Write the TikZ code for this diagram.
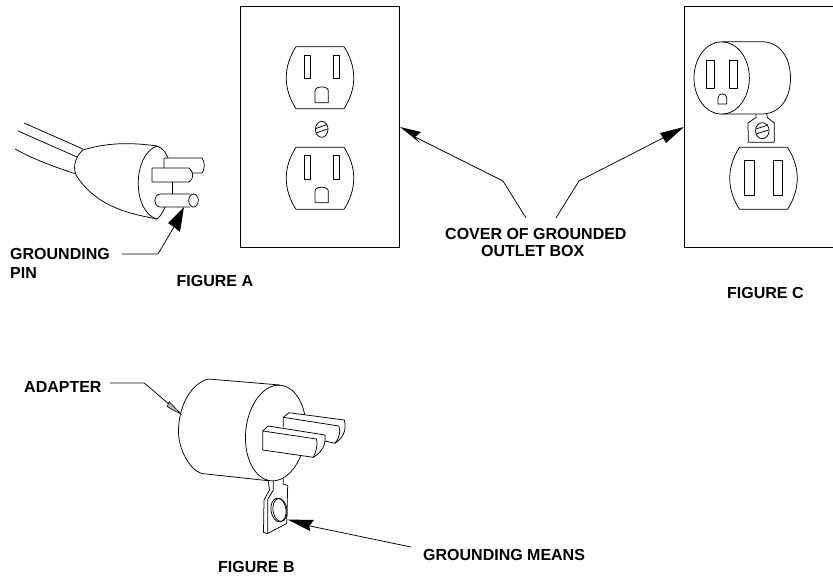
\documentclass[tikz,border=0pt]{standalone}
\usepackage{fontspec}
\setmainfont{Liberation Sans}
\tikzset{
 lbl/.style={font=\bfseries\fontsize{16}{17}\selectfont,inner sep=0pt,align=left,anchor=west},
 ln/.style={draw=black,line width=0.75pt,line join=round},
 pnl/.style={draw=black,line width=1pt},
 head/.style={fill=black,draw=none}
}
\begin{document}
\begin{tikzpicture}[x=1pt,y=-1pt]
\useasboundingbox (0,0) rectangle (833,576);
% Plug A
\draw[ln] (24,123)--(83,149) (18,131)--(77,157);
\draw[ln] (15,149) .. controls (35,160) and (55,167) .. (76,174);
\draw[ln] (157,146) .. controls (130,142) and (105,143) .. (83,150) .. controls (77,155) and (72,165) .. (76,175) .. controls (95,205) and (125,213) .. (157,219);
\draw[ln] (157,146) .. controls (132,155) and (132,212) .. (157,219);
\draw[ln] (157,146) .. controls (163,148) and (166,153) .. (168,158);
\draw[ln] (157,219) .. controls (160,217) and (163,212) .. (165,207);
\draw[ln] (164,168)--(164,158)--(202,158) .. controls (205,161) and (205,170) .. (202,173)--(192,173);
\draw[ln] (152,168)--(189,168) .. controls (194,172) and (194,179) .. (189,182)--(152,182)--cycle;
\draw[ln] (172,182)--(172,194);
\draw[ln] (190,194)--(160,194) .. controls (153,195) and (153,206) .. (160,207)--(190,207);
\draw[ln] (193.5,200.5) ellipse [x radius=4.8,y radius=6.5];
% Outlet A
\draw[pnl] (240.5,6) rectangle (399,247);
\newcommand{\recp}[2]{% x centre, top y
 \draw[ln] (#1-24,#2) -- (#1+24,#2) .. controls (#1+37,#2+20) and (#1+37,#2+42) .. (#1+24,#2+62) -- (#1-24,#2+62) .. controls (#1-37,#2+42) and (#1-37,#2+20) .. (#1-24,#2) -- cycle;
}
\newcommand{\gnd}[4]{% left, right, top, bottom
 \draw[ln] (#1,#4) -- (#1,#3+5) .. controls (#1,#3) and (#2,#3) .. (#2,#3+5) -- (#2,#4) -- cycle;
}
\recp{320}{46.7}
\draw[ln] (304,55) rectangle (310,78) (333,55) rectangle (339.5,78);
\gnd{315}{328.3}{85.7}{102.7}
\draw[ln] (321.7,129.3) ellipse [x radius=6.3,y radius=8];
\draw[ln] (316,128.5)--(327,124.5) (316,133)--(327.5,129);
\recp{320}{147.3}
\draw[ln] (304,155) rectangle (310,179) (333,155) rectangle (339.5,179);
\gnd{315}{328.3}{186}{202.7}
% Outlet C panel
\draw[pnl] (833,6)--(684,6)--(684,247)--(833,247);
\draw[ln] (723,41.7)--(763,41.7) .. controls (782,43) and (790.5,60) .. (790.5,78) .. controls (790.5,96) and (782,113) .. (763,114)--(723,114);
\draw[ln] (721.7,78) ellipse [x radius=27.7,y radius=36.2];
\draw[ln] (706,60) rectangle (714,88) (729.3,60) rectangle (737.7,88);
\gnd{718}{726.7}{92.7}{104}
\draw[ln] (756,114)--(756,117.5)--(748,123)--(748.3,142.3)--(774.3,142.3)--(774.3,123)--(767.3,117.5)--(766.7,113.5);
\draw[ln] (762.3,130.7) ellipse [x radius=6.8,y radius=8];
\draw[ln] (756,129)--(768,125) (756,134)--(768.5,130);
\recp{763.5}{147.3}
\draw[ln] (744.3,160.7) rectangle (754,195) (773.3,160.7) rectangle (782.7,195);
% Plug B
\draw[ln] (280,385)--(208.3,379) .. controls (192,383) and (178,405) .. (178.5,433) .. controls (179,450) and (190,470) .. (201.7,473.5)--(268.3,480.7);
\draw[ln,rotate around={-6:(275.7,433)}] (275.7,433) ellipse [x radius=30,y radius=48];
\draw[ln,fill=white] (283.3,427)--(283.3,417.3)--(289,412.7)--(344.3,420) .. controls (347,430) and (343,438) .. (335,443.3)--(325,441);
\draw[ln] (283.3,417.3)--(339,426) .. controls (341,432) and (339,438) .. (335,443.3);
\draw[ln,fill=white] (262.7,431)--(268.3,426)--(325,435) .. controls (326,445) and (322,452) .. (313.3,457.3)--(262.7,450)--cycle;
\draw[ln] (262.7,431)--(316.5,439) .. controls (318,445) and (316,452) .. (313.3,457.3);
\draw[ln] (268.3,481)--(269.5,490)--(264,500)--(263.5,532.5)--(267.5,533.5)--(286.7,523.5)--(287.7,485.5)--(283.3,484)--(283.3,478.5);
\draw[ln] (273.3,481)--(273.3,490)--(267.7,499.5)--(267.7,533);
\draw[ln,rotate around={8:(278.5,510)}] (278.5,510) ellipse [x radius=7.5,y radius=12];
\draw[ln,rotate around={8:(280,510)}] (280,510) ellipse [x radius=7,y radius=11.5];
% Labels
\node[lbl] (gp) at (10,254) {GROUNDING};
\node[lbl] (pin) at (10,273) {PIN};
\node[lbl] (figa) at (176.5,281) {FIGURE A};
\node[lbl] (cov1) at (445,234) {COVER OF GROUNDED};
\node[lbl] (cov2) at (481,251) {OUTLET BOX};
\node[lbl] (figc) at (727,293) {FIGURE C};
\node[lbl] (ad) at (24,387) {ADAPTER};
\node[lbl] (figb) at (218,567) {FIGURE B};
\node[lbl] (gm) at (423,555) {GROUNDING MEANS};
% connector end points
\coordinate (gpEnd) at (122,254);\coordinate (gpBend) at (158,254);\coordinate (gpTip) at (184,207);
\coordinate (cvA) at (526,218);\coordinate (cvAb) at (503,181);\coordinate (cvAt) at (400,127);
\coordinate (cvC) at (556,218);\coordinate (cvCb) at (579,181);\coordinate (cvCt) at (684,127);
\coordinate (adS) at (110,383);\coordinate (adB) at (144.3,383);\coordinate (adT) at (181,414);
\coordinate (gmS) at (411,547);\coordinate (gmT) at (287.5,519.5);
% Connectors
\draw[ln] (gpEnd)--(gpBend)--(174,227);
\fill[head] (gpTip)--(168,223)--(174,227)--(180,232)--cycle;
\draw[ln] (cvA)--(cvAb)--(415,137);
\fill[head] (cvAt)--(421,132)--(415,137)--(420,143)--cycle;
\draw[ln] (cvC)--(cvCb)--(663,138);
\fill[head] (cvCt)--(660,133)--(663,138)--(666,143)--cycle;
\draw[ln] (adS)--(adB)--(170,405);
\draw[draw=black,line width=0.6pt,fill=gray!60] (adT)--(169.3,401.7)--(167,406.5)--(173,410)--cycle;
\draw[ln] (gmS)--(310,526);
\fill[head] (gmT)--(314,520)--(309.5,525.5)--(310,531)--cycle;
\end{tikzpicture}
\end{document}
